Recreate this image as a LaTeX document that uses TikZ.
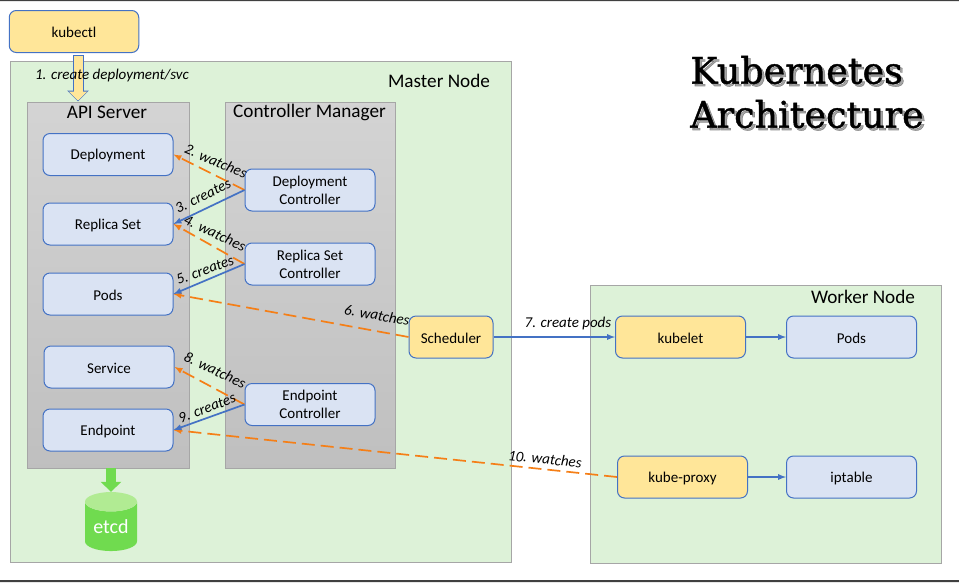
\documentclass[tikz,border=0pt]{standalone}
\usepackage{fontspec}
\setmainfont{Carlito}
\newfontfamily\titlefont[FakeBold=1.2]{DejaVu Serif}
\usepackage{xcolor}
\usetikzlibrary{shapes.geometric,arrows.meta}
\definecolor{boxblue}{HTML}{DAE3F3}
\definecolor{lineblue}{HTML}{4472C4}
\definecolor{boxyellow}{HTML}{FFE699}
\definecolor{nodegreen}{HTML}{DDF2D8}
\definecolor{etcdgreen}{HTML}{70DB4F}
\definecolor{etcdtop}{HTML}{B1EB93}
\definecolor{watchorange}{HTML}{F57F17}
\tikzset{
    basebox/.style={draw=lineblue,line width=1pt,rounded corners=7pt,minimum width=130pt,minimum height=42pt,inner sep=0pt,align=center,font=\fontsize{15}{18}\selectfont,execute at begin node={\rule{0pt}{13pt}}},
    bluebox/.style={basebox,fill=boxblue},
    yellowbox/.style={basebox,fill=boxyellow},
    panel/.style={draw=black!35,line width=0.8pt,minimum height=366pt,inner sep=0pt,top color=black!17,bottom color=black!25},
    nodearea/.style={draw=black!35,line width=0.8pt,fill=nodegreen,inner sep=0pt},
    watches/.style={draw=watchorange,line width=1.7pt,dash pattern=on 13pt off 6pt,-latex},
    creates/.style={draw=lineblue,line width=1.7pt,-latex},
    steplabel/.style={font=\fontsize{15}{16}\selectfont\itshape,inner sep=0pt},
    headlabel/.style={font=\fontsize{19.2}{20}\selectfont,inner sep=0pt},
    titlelabel/.style={inner sep=0pt,align=left,font=\fontsize{36.5}{44}\selectfont\titlefont}
}
\begin{document}
\begin{tikzpicture}[x=1pt,y=-1pt]
    \useasboundingbox (0,0) rectangle (959,582);
    \fill[black!75] (0,0) rectangle (959,1) (0,580) rectangle (959,582);

    \node[nodearea,minimum width=501pt,minimum height=501pt] (master) at (261,312) {};
    \node[nodearea,minimum width=351pt,minimum height=278pt] (worker) at (765.5,424) {};
    \node[panel,minimum width=162pt] (api) at (108,285) {};
    \node[panel,minimum width=170pt] (manager) at (310,285) {};

    \node[headlabel] (masterlabel) at (439,81) {Master Node};
    \node[headlabel] (workerlabel) at (863,297) {Worker Node};
    \node[headlabel] (apilabel) at (107,112) {API Server};
    \node[headlabel] (managerlabel) at (309.5,112) {Controller Manager};

    \node[yellowbox,minimum width=129.5pt] (kubectl) at (74,31.5) {kubectl};

    \foreach \nm/\x/\y/\txt in {deploy/108/154.5/Deployment,replica/108/224/Replica Set,pods/108/294/Pods,service/109/367/Service,endpoint/108/430/Endpoint,
        ctldeploy/310/190/{Deployment\\Controller},ctlreplica/310/264/{Replica Set\\Controller},ctlendpoint/310/404.5/{Endpoint\\Controller},
        wpods/851.5/337/Pods,iptable/851.5/477/iptable}
        \node[bluebox] (\nm) at (\x,\y) {\txt};

    \foreach \nm/\x/\y/\txt in {kubelet/680.5/337/kubelet,proxy/682.5/477/kube-proxy}
        \node[yellowbox] (\nm) at (\x,\y) {\txt};
    \node[yellowbox,minimum width=84pt] (scheduler) at (451,337) {Scheduler};

    \node[cylinder,shape border rotate=90,aspect=0.55,cylinder uses custom fill,cylinder body fill=etcdgreen,cylinder end fill=etcdtop,minimum width=52pt,minimum height=59pt,inner sep=0pt,text=white,font=\fontsize{20}{20}\selectfont] (etcd) at (111,526.5) {\raisebox{-4pt}{etcd}};

    \foreach \a/\b in {ctldeploy/deploy,ctlreplica/replica,ctlendpoint/service,scheduler/pods,proxy/endpoint}
        \draw[watches] (\a.west) -- (\b.east);
    \foreach \a/\b in {ctldeploy/replica,ctlreplica/pods,ctlendpoint/endpoint}
        \draw[creates] (\a.west) -- (\b.east);
    \draw[creates] (scheduler) -- (kubelet);
    \draw[creates] (kubelet) -- (wpods);
    \draw[creates] (proxy) -- (iptable);

    % block arrows
    \coordinate (kubefrom) at (78,55);
    \coordinate (kubeto) at (78,101.5);
    \draw[lineblue,line width=11pt,-{Triangle[length=11pt,width=21pt]}] (kubefrom) -- (kubeto);
    \draw[boxyellow,line width=9pt,-{Triangle[length=9pt,width=18pt]}] ([yshift=-1pt]kubefrom) -- ([yshift=1pt]kubeto);
    \draw[etcdgreen,line width=10pt,-{Triangle[length=10pt,width=20pt]}] (etcd.north |- api.south) -- (etcd.north);

    \node[steplabel] (step1) at (112,75) {1. create deployment/svc};
    \foreach \nm/\x/\y/\ang/\txt in {step2/216/161/-23/2. watches,step3/203/196/26/3. creates,step4/215/233/-25/4. watches,step5/205/270/20/5. creates,
        step6/377/315/-10/6. watches,step7/568/323/0/7. create pods,step8/215/370/-25/8. watches,step9/207/408/21/9. creates,step10/545/459/-6/10. watches}
        \node[steplabel,rotate=\ang] (\nm) at (\x,\y) {\txt};

    \node[titlelabel,text=black,opacity=0.35] (titleshadow) at (809.5,94.5) {Kubernetes\\Architecture};
    \node[titlelabel] (title) at (807,92) {Kubernetes\\Architecture};
\end{tikzpicture}
\end{document}
